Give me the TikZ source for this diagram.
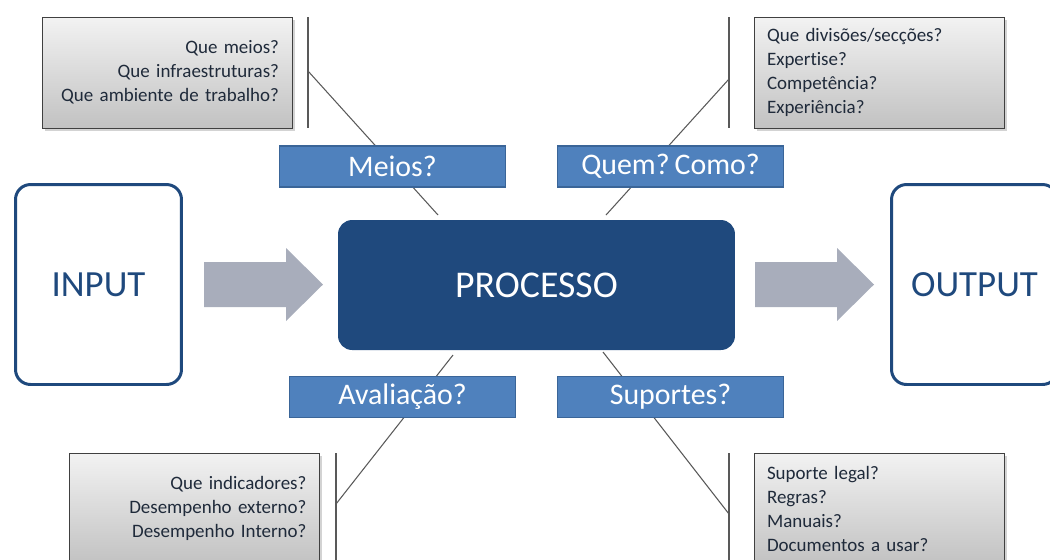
\documentclass[tikz,border=0pt]{standalone}
\usepackage{fontspec}
\setmainfont{Carlito}[Ligatures=NoCommon]
\usetikzlibrary{shadows}
\definecolor{procblue}{HTML}{1F497D}
\definecolor{labblue}{HTML}{4F81BD}
\definecolor{labedge}{HTML}{3A6598}
\definecolor{arrgray}{HTML}{A8ADBB}
\definecolor{qtext}{HTML}{1F2A3A}
\newcommand{\seta}{++(0,-22.5) -- ++(82,0) -- ++(0,-14) -- ++(37,36.5) -- ++(-37,36.5) -- ++(0,-14) -- ++(-82,0) -- cycle}

\begin{document}
\begin{tikzpicture}[x=0.02cm,y=-0.02cm,
  io/.style={draw=procblue,line width=1.7pt,rounded corners=0.3cm,fill=white,
    minimum width=3.32cm,minimum height=4cm,text=procblue,font=\fontsize{21}{24}\selectfont},
  etiqueta/.style={draw=labedge,line width=0.6pt,fill=labblue,text=white,
    minimum width=4.52cm,minimum height=0.82cm,inner sep=0pt,font=\fontsize{17}{18}\selectfont},
  pergunta/.style={draw=black!75,line width=0.5pt,top color=gray!10,bottom color=gray!48,
    drop shadow={opacity=0.35,shadow xshift=1.5pt,shadow yshift=-1.5pt},
    minimum width=5cm,minimum height=2.22cm,inner xsep=0.26cm,text width=4.48cm,
    text=qtext,font=\fontsize{10.8}{13.66}\selectfont},
  traco/.style={draw=black!65,line width=0.6pt}]
\useasboundingbox (0,0) rectangle (1050,559);

% caixas de perguntas
\node[pergunta,align=right] (qMeios) at (167,72.5) {Que meios?\\Que infraestruturas?\\Que ambiente de trabalho?};
\node[pergunta,align=left] (qQuem) at (879,72.5) {Que divisões/secções?\\Expertise?\\Competência?\\Experiência?};
\node[pergunta,align=right] (qAval) at (194.5,508.5) {Que indicadores?\\Desempenho externo?\\Desempenho Interno?};
\node[pergunta,align=left] (qSup) at (879,508.5) {Suporte legal?\\Regras?\\Manuais?\\Documentos a usar?};

% barras
\draw[traco] (308,17) -- (308,128);
\draw[traco] (729,17) -- (729,128);
\draw[traco] (336,453) -- (336,565);
\draw[traco] (729,453) -- (729,565);
\coordinate (bMeios) at (308,71);
\coordinate (bQuem) at (729,79);
\coordinate (bAval) at (336,504);
\coordinate (bSup) at (729,514);
\coordinate (pMeios) at (438,215);
\coordinate (pQuem) at (606,215);
\coordinate (pAval) at (453,355);
\coordinate (pSup) at (603,352);
\draw[traco] (bMeios) -- (pMeios);
\draw[traco] (bQuem) -- (pQuem);
\draw[traco] (bAval) -- (pAval);
\draw[traco] (bSup) -- (pSup);

\node[etiqueta] (eMeios) at (392.5,166.5) {Meios?};
\node[etiqueta] (eQuem) at (670.5,166.5) {Quem?\,Como?};
\node[etiqueta] (eAval) at (402.5,397) {Avaliação?};
\node[etiqueta] (eSup) at (670.5,397) {Suportes?};

% centro
\node[io] (inp) at (98.5,284.5) {INPUT};
\node[io] (outp) at (974.5,284.5) {OUTPUT};
\node[fill=procblue,rounded corners=0.28cm,minimum width=7.94cm,minimum height=2.6cm,
  text=white,font=\fontsize{21.5}{24}\selectfont] (proc) at (536.5,285) {PROCESSO};
\fill[arrgray] (204,284.5) \seta;
\fill[arrgray] (755,284.5) \seta;
\end{tikzpicture}
\end{document}
